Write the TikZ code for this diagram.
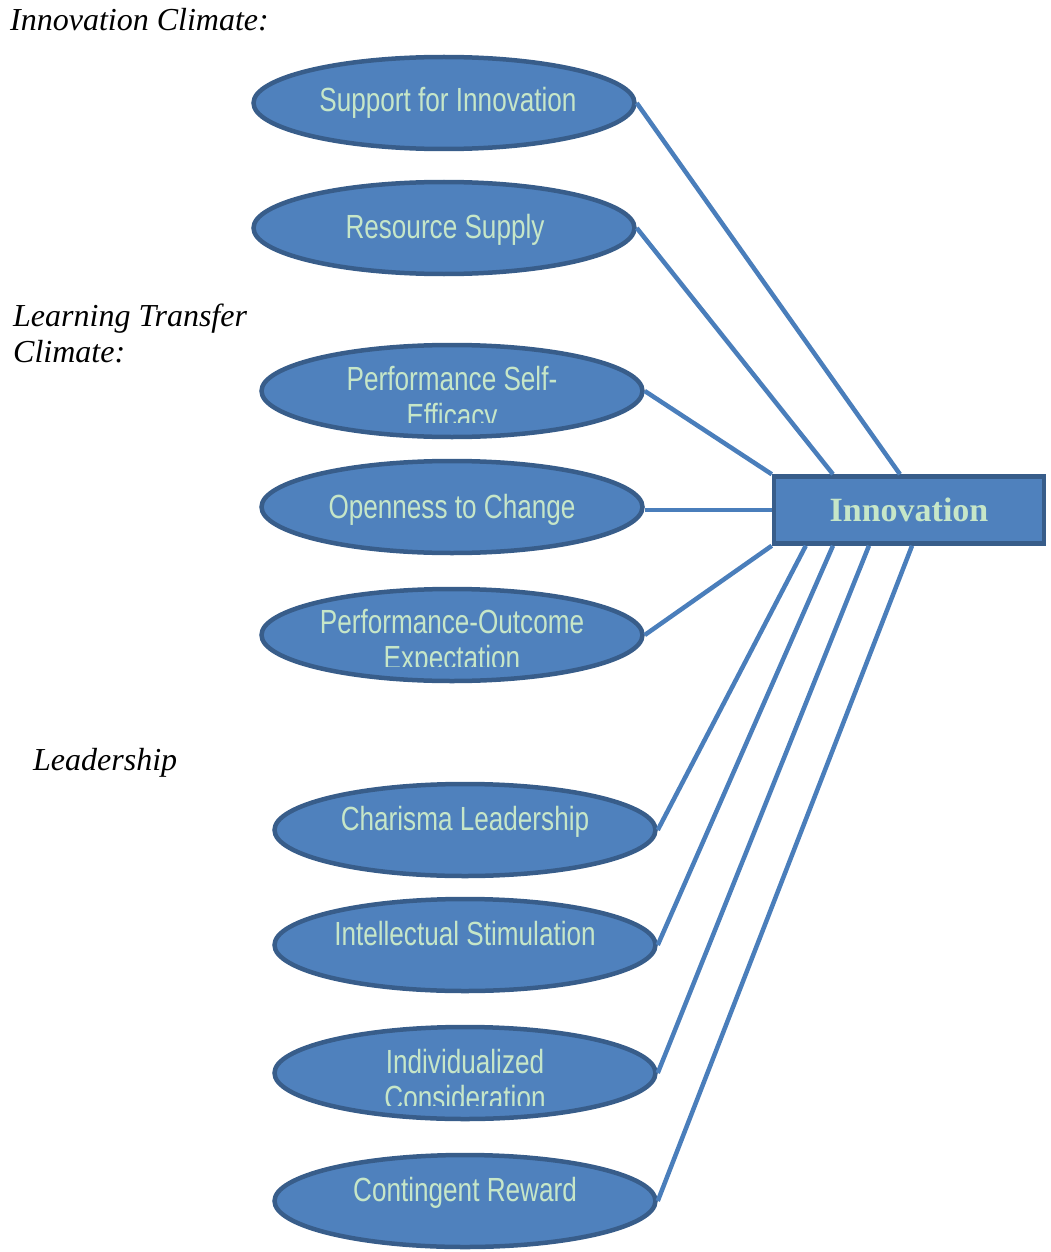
\documentclass[tikz,border=0pt]{standalone}
\usepackage{fontspec}
\setmainfont{Liberation Serif}
\newfontfamily\narrowsans[FakeStretch=0.78]{Liberation Sans}
\usetikzlibrary{shapes.geometric,calc}
\definecolor{fillblue}{RGB}{79,129,189}
\definecolor{edgeblue}{RGB}{56,93,138}
\definecolor{linkblue}{RGB}{74,126,187}
\definecolor{palegreen}{RGB}{198,230,200}
\tikzset{
  oval/.style={ellipse, draw=edgeblue, fill=fillblue, line width=4.5pt, minimum width=381pt, minimum height=92pt, inner sep=0pt},
  ovaltext/.style={text=palegreen, font=\narrowsans\fontsize{33.5}{36}\selectfont, anchor=base, inner sep=0pt},
  link/.style={draw=linkblue, line width=4.5pt},
  grouplabel/.style={font=\itshape\fontsize{32}{36}\selectfont, anchor=base west, inner sep=0pt},
}
\begin{document}
\begin{tikzpicture}[x=1pt,y=-1pt]
\useasboundingbox (0,0) rectangle (1050,1252);

% group labels
\node[grouplabel] (g1) at (10,31) {Innovation Climate:};
\node[grouplabel] (g2) at (13,326) {Learning Transfer};
\node[grouplabel] (g2b) at (13,362) {Climate:};
\node[grouplabel] (g3) at (33,770) {Leadership};

% central box
\node[draw=edgeblue, fill=fillblue, line width=4.5pt, minimum width=270pt, minimum height=67pt, inner sep=0pt,
      text=palegreen, font=\bfseries\fontsize{34}{40}\selectfont] (box) at (909,510) {Innovation};

% ellipses
\node[oval] (e1) at (444,103) {};
\node[ovaltext] (t1) at (448,112) {Support for Innovation};
\node[oval] (e2) at (444,228) {};
\node[ovaltext] (t2) at (445,238) {Resource Supply};
\node[oval] (e3) at (452,391) {};
\begin{scope}
  \clip (300,350) rectangle (600,422);
  \node[ovaltext] (t3a) at (452,390) {Performance Self-};
  \node[ovaltext] (t3b) at (452,427) {Efficacy};
\end{scope}
\node[oval] (e4) at (452,507) {};
\node[ovaltext] (t4) at (452,518) {Openness to Change};
\node[oval] (e5) at (452,635) {};
\begin{scope}
  \clip (300,595) rectangle (600,666);
  \node[ovaltext] (t5a) at (452,633) {Performance-Outcome};
  \node[ovaltext] (t5b) at (452,669) {Expectation};
\end{scope}
\node[oval] (e6) at (465,830) {};
\node[ovaltext] (t6) at (465,830) {Charisma Leadership};
\node[oval] (e7) at (465,945) {};
\node[ovaltext] (t7) at (465,945) {Intellectual Stimulation};
\node[oval] (e8) at (465,1073) {};
\begin{scope}
  \clip (300,1035) rectangle (630,1105);
  \node[ovaltext] (t8a) at (465,1073) {Individualized};
  \node[ovaltext] (t8b) at (465,1109) {Consideration};
\end{scope}
\node[oval] (e9) at (465,1201) {};
\node[ovaltext] (t9) at (465,1201) {Contingent Reward};

% connectors
\draw[link] (e1.east) -- ($(box.north west)!0.467!(box.north east)$);
\draw[link] (e2.east) -- ($(box.north west)!0.223!(box.north east)$);
\draw[link] (e3.east) -- (box.north west);
\draw[link] (e4.east |- box.west) -- (box.west);
\draw[link] (e5.east) -- (box.south west);
\draw[link] (e6.east) -- ($(box.south west)!0.124!(box.south east)$);
\draw[link] (e7.east) -- ($(box.south west)!0.223!(box.south east)$);
\draw[link] (e8.east) -- ($(box.south west)!0.354!(box.south east)$);
\draw[link] (e9.east) -- ($(box.south west)!0.511!(box.south east)$);
\end{tikzpicture}
\end{document}
